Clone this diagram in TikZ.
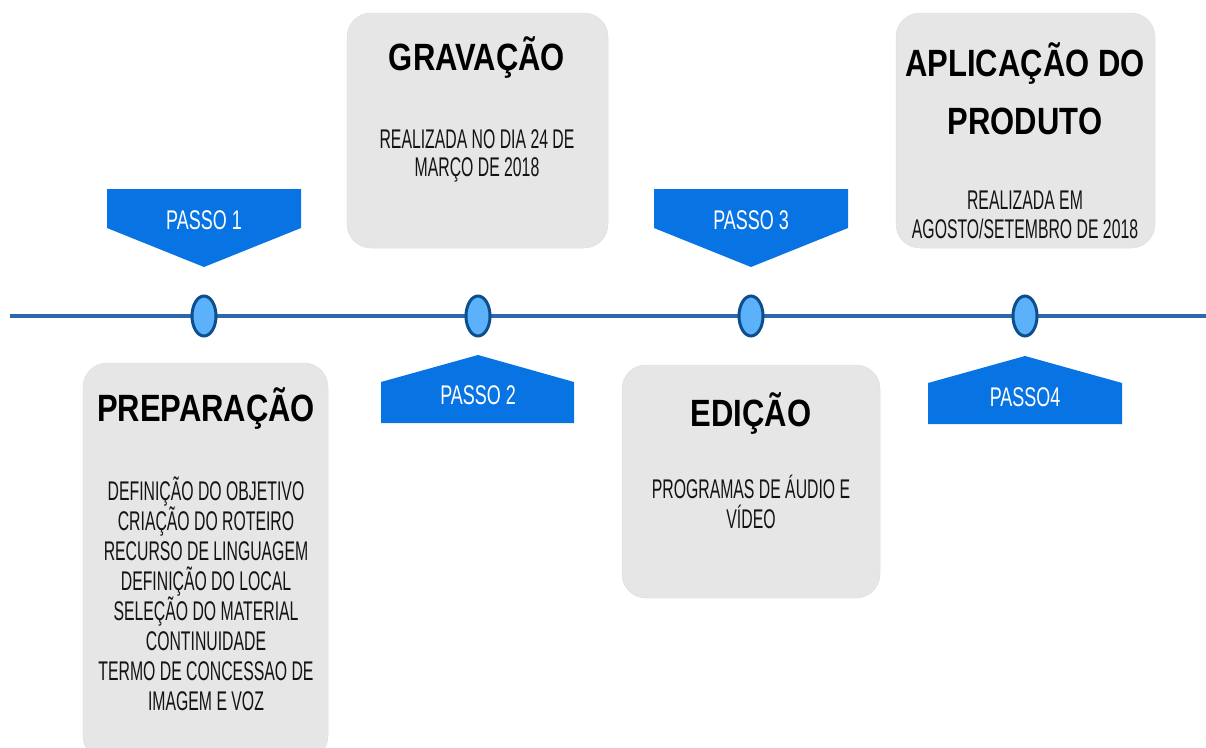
\documentclass[tikz,border=0pt]{standalone}
\usepackage{fontspec}
\setmainfont{Liberation Sans}
\newfontfamily\bodyf[FakeStretch=0.585]{Liberation Sans}
\newfontfamily\passof[FakeStretch=0.665]{Liberation Sans}
\newfontfamily\titlef[FakeStretch=0.815]{Liberation Sans}
\usetikzlibrary{shapes.geometric}
\definecolor{passoblue}{RGB}{8,115,226}
\definecolor{linecol}{RGB}{44,104,176}
\definecolor{dotfill}{RGB}{92,178,250}
\definecolor{dotdraw}{RGB}{12,78,142}
\definecolor{boxgray}{RGB}{230,230,230}
\definecolor{txt}{RGB}{20,20,20}
\tikzset{
  x=1pt, y=-1pt,
  graybox/.style={fill=boxgray, draw=boxgray!97!black, line width=0.5pt, rounded corners=24pt},
  passoshape/.style={fill=passoblue, draw=none},
  passotext/.style={anchor=base, inner sep=0pt, text=white, font=\passof\fontsize{27}{30}\selectfont},
  titletext/.style={anchor=base, inner sep=0pt, text=black, font=\titlef\bfseries\fontsize{38}{40}\selectfont},
  bodytext/.style={anchor=base, inner sep=0pt, text=txt, font=\bodyf\fontsize{27}{30}\selectfont},
  dot/.style={ellipse, fill=dotfill, draw=dotdraw, line width=3pt, minimum width=24pt, minimum height=40pt, inner sep=0pt},
  tline/.style={draw=linecol, line width=4pt}
}
\begin{document}
\begin{tikzpicture}
\useasboundingbox (0,0) rectangle (1206,747);
% gray boxes
\draw[graybox] (347,13) rectangle (608,248);
\draw[graybox] (896,13) rectangle (1155,248);
\draw[graybox] (83,363) rectangle (328,760);
\draw[graybox] (622,365) rectangle (880,598);
% timeline
\coordinate (tlL) at (10,316);
\coordinate (tlR) at (1206,316);
\draw[tline] (tlL) -- (tlR);
\node[dot] (d1) at (204,316) {};
\node[dot] (d2) at (478,316) {};
\node[dot] (d3) at (751,316) {};
\node[dot] (d4) at (1025,316) {};
% passo shapes
\fill[passoshape] (107,189) -- (301,189) -- (301,228) -- (204,267) -- (107,228) -- cycle;
\fill[passoshape] (654,189) -- (848,189) -- (848,228) -- (751,267) -- (654,228) -- cycle;
\fill[passoshape] (381,423) -- (381,382) -- (478,355) -- (574,382) -- (574,423) -- cycle;
\fill[passoshape] (928,424) -- (928,383) -- (1025,356) -- (1122,383) -- (1122,424) -- cycle;
\node[passotext] (p1) at (204,229) {PASSO 1};
\node[passotext] (p2) at (478,404) {PASSO 2};
\node[passotext] (p3) at (751,229) {PASSO 3};
\node[passotext] (p4) at (1025,406) {PASSO4};
% GRAVACAO
\node[titletext] (gt) at (477,70) {GRAVAÇÃO};
\node[bodytext] (g1) at (477,148) {REALIZADA NO DIA 24 DE};
\node[bodytext] (g2) at (477,176) {MARÇO DE 2018};
% APLICACAO
\node[titletext] (at1) at (1025,76) {APLICAÇÃO DO};
\node[titletext] (at2) at (1025,134) {PRODUTO};
\node[bodytext] (a1) at (1025,209) {REALIZADA EM};
\node[bodytext] (a2) at (1025,238) {AGOSTO/SETEMBRO DE 2018};
% PREPARACAO
\node[titletext] (pt) at (206,421) {PREPARAÇÃO};
\node[bodytext] (r1) at (206,500) {DEFINIÇÃO DO OBJETIVO};
\node[bodytext] (r2) at (206,530) {CRIAÇÃO DO ROTEIRO};
\node[bodytext] (r3) at (206,560) {RECURSO DE LINGUAGEM};
\node[bodytext] (r4) at (206,590) {DEFINIÇÃO DO LOCAL};
\node[bodytext] (r5) at (206,620) {SELEÇÃO DO MATERIAL};
\node[bodytext] (r6) at (206,650) {CONTINUIDADE};
\node[bodytext] (r7) at (206,680) {TERMO DE CONCESSAO DE};
\node[bodytext] (r8) at (206,710) {IMAGEM E VOZ};
% EDICAO
\node[titletext] (et) at (751,426) {EDIÇÃO};
\node[bodytext] (e1) at (751,498) {PROGRAMAS DE ÁUDIO E};
\node[bodytext] (e2) at (751,528) {VÍDEO};
\end{tikzpicture}
\end{document}
